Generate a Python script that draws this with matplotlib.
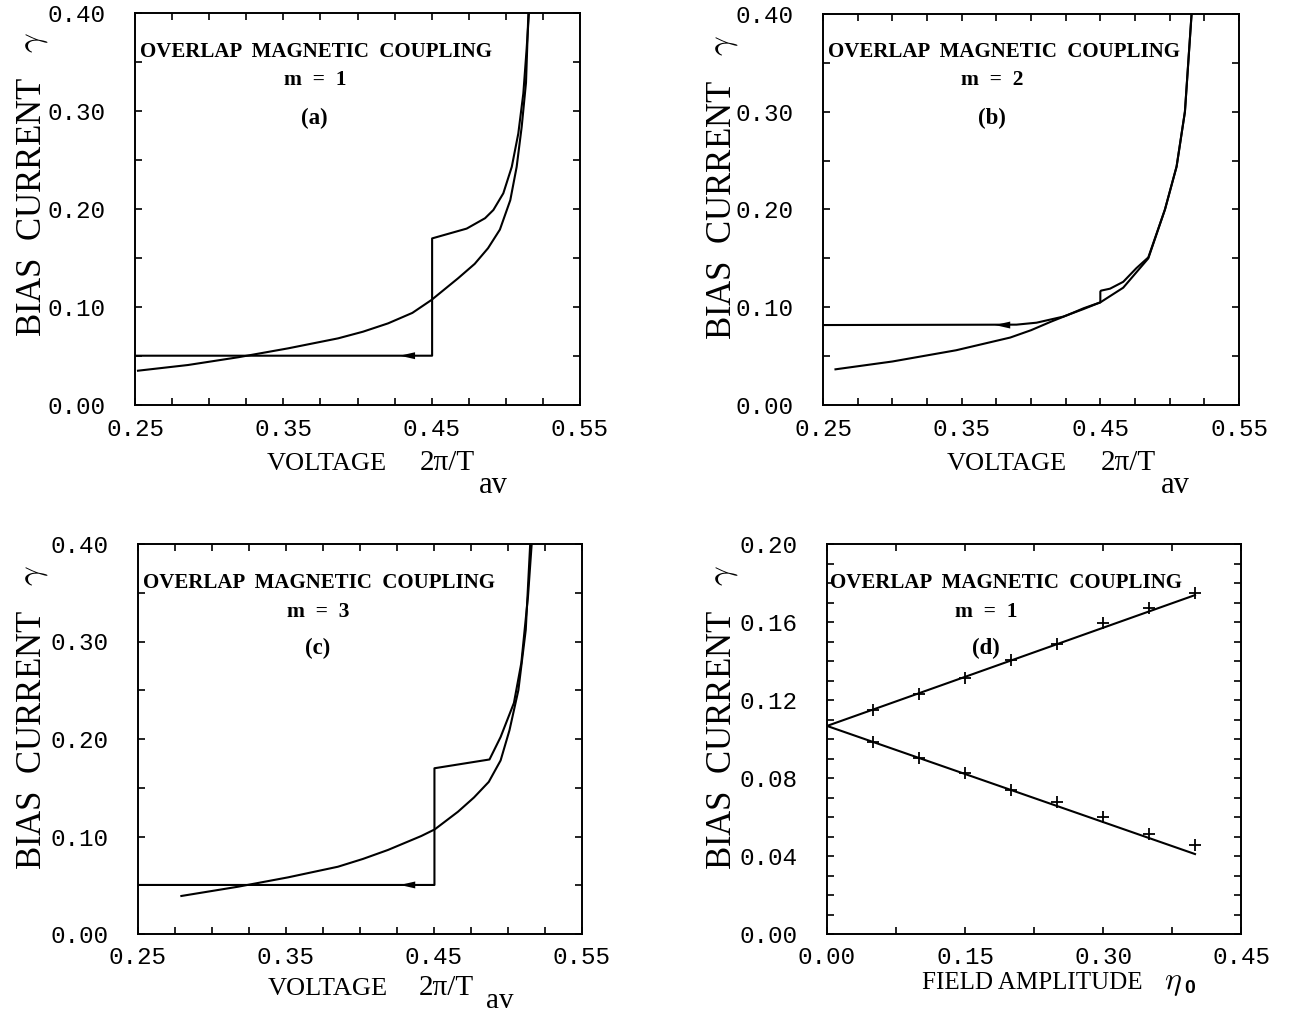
import matplotlib
matplotlib.use("Agg")
import matplotlib.pyplot as plt
from matplotlib.ticker import MultipleLocator

plt.rcParams['mathtext.fontset'] = 'cm'

# ---------------- data ----------------
# panel (a), m = 1
a_smooth_v = [0.252, 0.2857, 0.3195, 0.3532, 0.3869, 0.4037, 0.4206, 0.437, 0.4498, 0.4678,
              0.4790, 0.4880, 0.4960, 0.5030, 0.5073, 0.5107, 0.5136, 0.5152]
a_smooth_g = [0.035, 0.0408, 0.0487, 0.0578, 0.068, 0.0748, 0.0833, 0.0940, 0.1071, 0.1293,
              0.1440, 0.1600, 0.1790, 0.2090, 0.2430, 0.2840, 0.3290, 0.40]
a_step_v = [0.5156, 0.514, 0.5118, 0.5084, 0.504, 0.4983, 0.4916, 0.486, 0.4736, 0.4503, 0.4503, 0.25]
a_step_g = [0.40, 0.363, 0.318, 0.277, 0.243, 0.216, 0.199, 0.1906, 0.180, 0.170, 0.0503, 0.0503]
a_arrow = (0.4285, 0.0503)

# panel (b), m = 2
b_smooth_v = [0.259, 0.30, 0.346, 0.385, 0.400, 0.414, 0.426, 0.438, 0.45, 0.4665, 0.4846,
              0.4966, 0.505, 0.511, 0.5158]
b_smooth_g = [0.0365, 0.0445, 0.056, 0.069, 0.0765, 0.085, 0.0918, 0.099, 0.105, 0.120, 0.150,
              0.200, 0.244, 0.300, 0.40]
b_step_v = [0.5158, 0.511, 0.505, 0.4966, 0.4846, 0.476, 0.4665, 0.457, 0.4505, 0.45, 0.45,
            0.4376, 0.4232, 0.404, 0.3895, 0.25]
b_step_g = [0.40, 0.300, 0.244, 0.200, 0.151, 0.140, 0.126, 0.119, 0.117, 0.116, 0.105,
            0.098, 0.0904, 0.0842, 0.0822, 0.0818]
b_arrow = (0.374, 0.0818)

# panel (c), m = 3
c_smooth_v = [0.2793, 0.3176, 0.3514, 0.3851, 0.402, 0.4189, 0.4414, 0.4505, 0.4662, 0.477,
              0.487, 0.495, 0.501, 0.507, 0.512, 0.515]
c_smooth_g = [0.039, 0.0485, 0.0581, 0.069, 0.0770, 0.0862, 0.1005, 0.1073, 0.1254, 0.140,
              0.156, 0.178, 0.209, 0.250, 0.312, 0.40]
c_step_v = [0.516, 0.5135, 0.509, 0.504, 0.495, 0.4875, 0.4503, 0.4503, 0.25]
c_step_g = [0.40, 0.346, 0.278, 0.237, 0.202, 0.179, 0.170, 0.0503, 0.0503]
c_arrow = (0.427, 0.0503)

# panel (d)
eta = [0.05, 0.10, 0.15, 0.20, 0.25, 0.30, 0.35, 0.40]
d_upper = [0.1149, 0.1229, 0.1315, 0.1405, 0.1487, 0.1597, 0.1670, 0.1750]
d_lower = [0.0986, 0.0901, 0.0824, 0.0738, 0.0679, 0.0602, 0.0513, 0.0456]
fit_eta = [0.0, 0.40]
fit_upper = [0.1067, 0.1738]
fit_lower = [0.1067, 0.0410]

volt_ticks = [0.25, 0.35, 0.45, 0.55]
volt_ticklabels = ["0.25", "0.35", "0.45", "0.55"]
gam_ticks = [0.0, 0.1, 0.2, 0.3, 0.4]
gam_ticklabels = ["0.00", "0.10", "0.20", "0.30", "0.40"]
eta_ticks = [0.0, 0.15, 0.30, 0.45]
eta_ticklabels = ["0.00", "0.15", "0.30", "0.45"]
d_ticks = [0.0, 0.04, 0.08, 0.12, 0.16, 0.20]
d_ticklabels = ["0.00", "0.04", "0.08", "0.12", "0.16", "0.20"]

# ---------------- figure ----------------
W, H = 1310, 1017
fig = plt.figure(figsize=(W / 100, H / 100), dpi=100)

def px_axes(l, r, t, b):
    return fig.add_axes([l / W, 1 - b / H, (r - l) / W, (b - t) / H])

def fx(x):
    return x / W

def fy(y):
    return 1 - y / H

SERIF = 'Liberation Serif'
MONO = 'Liberation Mono'
LW = 1.5

def style(ax, xt, xtl, yt, ytl, xminor, yminor):
    ax.set_xticks(xt)
    ax.set_xticklabels(xtl, fontfamily=MONO, fontsize=17.5)
    ax.set_yticks(yt)
    ax.set_yticklabels(ytl, fontfamily=MONO, fontsize=17.5)
    ax.xaxis.set_minor_locator(MultipleLocator(xminor))
    ax.yaxis.set_minor_locator(MultipleLocator(yminor))
    ax.tick_params(which='both', direction='in', top=True, right=True, length=5, width=1.2)
    ax.tick_params(axis='x', which='major', pad=9)
    ax.tick_params(axis='y', which='major', pad=21)
    for s in ax.spines.values():
        s.set_linewidth(1.4)

def annot(ax, m, tag, xl, xc, ys):
    ax.text(xl, ys[0], "OVERLAP  MAGNETIC  COUPLING", transform=ax.transAxes,
            fontfamily=SERIF, fontweight='bold', fontsize=15, ha='left', va='center')
    ax.text(xc, ys[1], "m  =  %d" % m, transform=ax.transAxes,
            fontfamily=SERIF, fontweight='bold', fontsize=15.5, ha='center', va='center')
    ax.text(xc, ys[2], "(%s)" % tag, transform=ax.transAxes,
            fontfamily=SERIF, fontweight='bold', fontsize=16.5, ha='center', va='center')

def ylabel(xpx, ybot_px):
    fig.text(fx(xpx), fy(ybot_px), "BIAS  CURRENT   $\\gamma$", rotation=90,
             fontfamily=SERIF, fontsize=25, ha='center', va='bottom')

def arrow(ax, pt):
    ax.annotate('', xy=pt, xytext=(pt[0] + 0.012, pt[1]),
                arrowprops=dict(arrowstyle='-|>,head_length=1.1,head_width=0.25',
                                color='k', lw=0, shrinkA=0, shrinkB=0, mutation_scale=10))

# panel (a)
axa = px_axes(135, 580, 13, 405)
axa.plot(a_smooth_v, a_smooth_g, color='k', lw=LW)
axa.plot(a_step_v, a_step_g, color='k', lw=LW)
arrow(axa, a_arrow)
axa.set_xlim(0.25, 0.55); axa.set_ylim(0, 0.40)
style(axa, volt_ticks, volt_ticklabels, gam_ticks, gam_ticklabels, 0.025, 0.05)
annot(axa, 1, 'a', 0.011, 0.404, (0.900, 0.829, 0.732))

# panel (b)
axb = px_axes(823, 1239, 14, 405)
axb.plot(b_smooth_v, b_smooth_g, color='k', lw=LW)
axb.plot(b_step_v, b_step_g, color='k', lw=LW)
arrow(axb, b_arrow)
axb.set_xlim(0.25, 0.55); axb.set_ylim(0, 0.40)
style(axb, volt_ticks, volt_ticklabels, gam_ticks, gam_ticklabels, 0.025, 0.05)
annot(axb, 2, 'b', 0.012, 0.406, (0.903, 0.831, 0.734))

# panel (c)
axc = px_axes(138, 582, 544, 934)
axc.plot(c_smooth_v, c_smooth_g, color='k', lw=LW)
axc.plot(c_step_v, c_step_g, color='k', lw=LW)
arrow(axc, c_arrow)
axc.set_xlim(0.25, 0.55); axc.set_ylim(0, 0.40)
style(axc, volt_ticks, volt_ticklabels, gam_ticks, gam_ticklabels, 0.025, 0.05)
annot(axc, 3, 'c', 0.011, 0.405, (0.900, 0.826, 0.733))

# panel (d)
axd = px_axes(827, 1241, 544, 934)
axd.plot(fit_eta, fit_upper, color='k', lw=LW)
axd.plot(fit_eta, fit_lower, color='k', lw=LW)
axd.plot(eta, d_upper, ls='none', marker='+', ms=9, mew=1.3, color='k')
axd.plot(eta, d_lower, ls='none', marker='+', ms=9, mew=1.3, color='k')
axd.set_xlim(0, 0.45); axd.set_ylim(0, 0.20)
style(axd, eta_ticks, eta_ticklabels, d_ticks, d_ticklabels, 0.075, 0.01)
annot(axd, 1, 'd', 0.007, 0.384, (0.900, 0.826, 0.733))

# axis labels
ylabel(33, 337)
ylabel(722, 340)
ylabel(33, 870)
ylabel(722, 870)

for (xl, x2, bl, avx, avb, avs) in [(267, 420, 470, 479, 493, 22), (947, 1101, 470, 1161, 493, 22),
                                    (268, 419, 995, 486, 1008, 21)]:
    fig.text(fx(xl), fy(bl), "VOLTAGE", fontfamily=SERIF, fontsize=19,
             ha='left', va='baseline')
    fig.text(fx(x2), fy(bl), "2\u03c0/T", fontfamily=SERIF, fontsize=21,
             ha='left', va='baseline')
    fig.text(fx(avx), fy(avb), "av", fontfamily=SERIF, fontsize=avs,
             ha='left', va='baseline')

fig.text(fx(922), fy(989), "FIELD AMPLITUDE", fontfamily=SERIF,
         fontsize=18, ha='left', va='baseline')
fig.text(fx(1164), fy(989), "$\\eta$", fontsize=23, ha='left', va='baseline')
fig.text(fx(1184), fy(993), "0", fontfamily='Liberation Sans', fontweight='bold',
         fontsize=14, ha='left', va='baseline')

fig.savefig("out.png", dpi=100)
